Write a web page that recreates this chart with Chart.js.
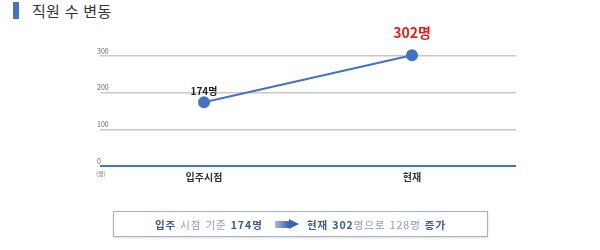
<!DOCTYPE html>
<html lang="ko">
<head>
<meta charset="utf-8">
<title>직원 수 변동</title>
<script src="https://cdn.jsdelivr.net/npm/chart.js"></script>
<style>
  body { margin: 0; width: 600px; height: 250px; background: #fff; position: relative; overflow: hidden;
         font-family: "Noto Sans CJK KR", "Noto Sans", sans-serif; }
  #chartBox { position: absolute; left: 0; top: 0; width: 600px; height: 250px; }
  .title { position: absolute; left: 13px; top: 2px; height: 17px; display: flex; align-items: center; }
  .title .bar { width: 6px; height: 17px; background: #4472c4; margin-right: 13px; }
  .title span { font-size: 15px; color: #333; letter-spacing: 0.3px; }
  .unit { position: absolute; left: 96px; top: 169px; font-size: 6px; color: #777; }
  .summary { position: absolute; left: 113px; top: 211px; width: 373px; height: 24px;
             border: 1.5px solid #a4b0cc; box-shadow: 0 1px 2px rgba(0,0,0,0.15);
             display: flex; align-items: center; justify-content: center;
             font-size: 10.5px; color: #8d9bbb; letter-spacing: 1px; }
  .summary b { color: #3d5a96; }
  .arrow { display: inline-block; width: 24px; height: 11px; margin: 0 8px 0 12px; position: relative; }
  .arrow::before { content: ""; position: absolute; left: 0; top: 2px; width: 14px; height: 7px;
                   background: linear-gradient(to right, #aab8dc, #3f63ad); }
  .arrow::after { content: ""; position: absolute; left: 14px; top: 0; border-left: 10px solid #3f63ad;
                  border-top: 5.5px solid transparent; border-bottom: 5.5px solid transparent; }
</style>
</head>
<body>
  <div class="title"><div class="bar"></div><span>직원 수 변동</span></div>
  <div id="chartBox"><canvas id="staffChart"></canvas></div>
  <div class="unit">(명)</div>
  <div class="summary">
    <b>입주</b>&nbsp;시점 기준&nbsp;<b>174명</b><span class="arrow"></span><b>현재 302</b>명으로 128명&nbsp;<b>증가</b>
  </div>

<script>
  const categories = ['입주시점', '현재'];
  const staffCount = [174, 302];
  const pointLabels = ['174명', '302명'];
  const yTicks = [0, 100, 200, 300];

  const lineBlue = '#4472c4';

  // 포인트 위 라벨
  const valueLabels = {
    id: 'valueLabels',
    afterDatasetsDraw(chart) {
      const ctx = chart.ctx;
      const meta = chart.getDatasetMeta(0);
      ctx.save();
      ctx.textAlign = 'center';
      ctx.textBaseline = 'middle';
      meta.data.forEach((pt, i) => {
        if (i === 1) {
          ctx.fillStyle = '#e3201b';
          ctx.font = 'bold 14px "Noto Sans CJK KR"';
          ctx.fillText(pointLabels[i], pt.x, pt.y - 23);
        } else {
          ctx.fillStyle = '#222';
          ctx.font = 'bold 10px "Noto Sans CJK KR"';
          ctx.fillText(pointLabels[i], pt.x, pt.y - 11);
        }
      });
      ctx.restore();
    }
  };

  new Chart(document.getElementById('staffChart'), {
    type: 'line',
    data: {
      labels: categories,
      datasets: [{
        data: staffCount,
        borderColor: lineBlue,
        backgroundColor: lineBlue,
        borderWidth: 2,
        pointRadius: 5,
        pointHoverRadius: 5,
        clip: false
      }]
    },
    options: {
      responsive: true,
      maintainAspectRatio: false,
      animation: false,
      layout: { padding: { left: 100, right: 84, top: 56, bottom: 50 } },
      plugins: { legend: { display: false }, tooltip: { enabled: false } },
      scales: {
        x: {
          offset: true,
          grid: { display: false, drawTicks: false },
          border: { display: false },
          ticks: { color: '#333', font: { size: 10, weight: 'bold', family: '"Noto Sans CJK KR"' }, padding: 5 },
          afterFit: s => { s.height = 34; }
        },
        y: {
          min: 0,
          max: 300,
          afterBuildTicks: s => { s.ticks = yTicks.map(v => ({ value: v })); },
          afterFit: s => { s.width = 0; },
          border: { display: false },
          grid: {
            color: c => c.tick.value === 0 ? lineBlue : '#c9c9c9',
            lineWidth: c => c.tick.value === 0 ? 2 : 1.5,
            drawTicks: false
          },
          ticks: {
            mirror: true,
            padding: -3,
            labelOffset: -5,
            color: '#666',
            font: { size: 7, family: '"Noto Sans CJK KR"' }
          }
        }
      }
    },
    plugins: [valueLabels]
  });
</script>
</body>
</html>
